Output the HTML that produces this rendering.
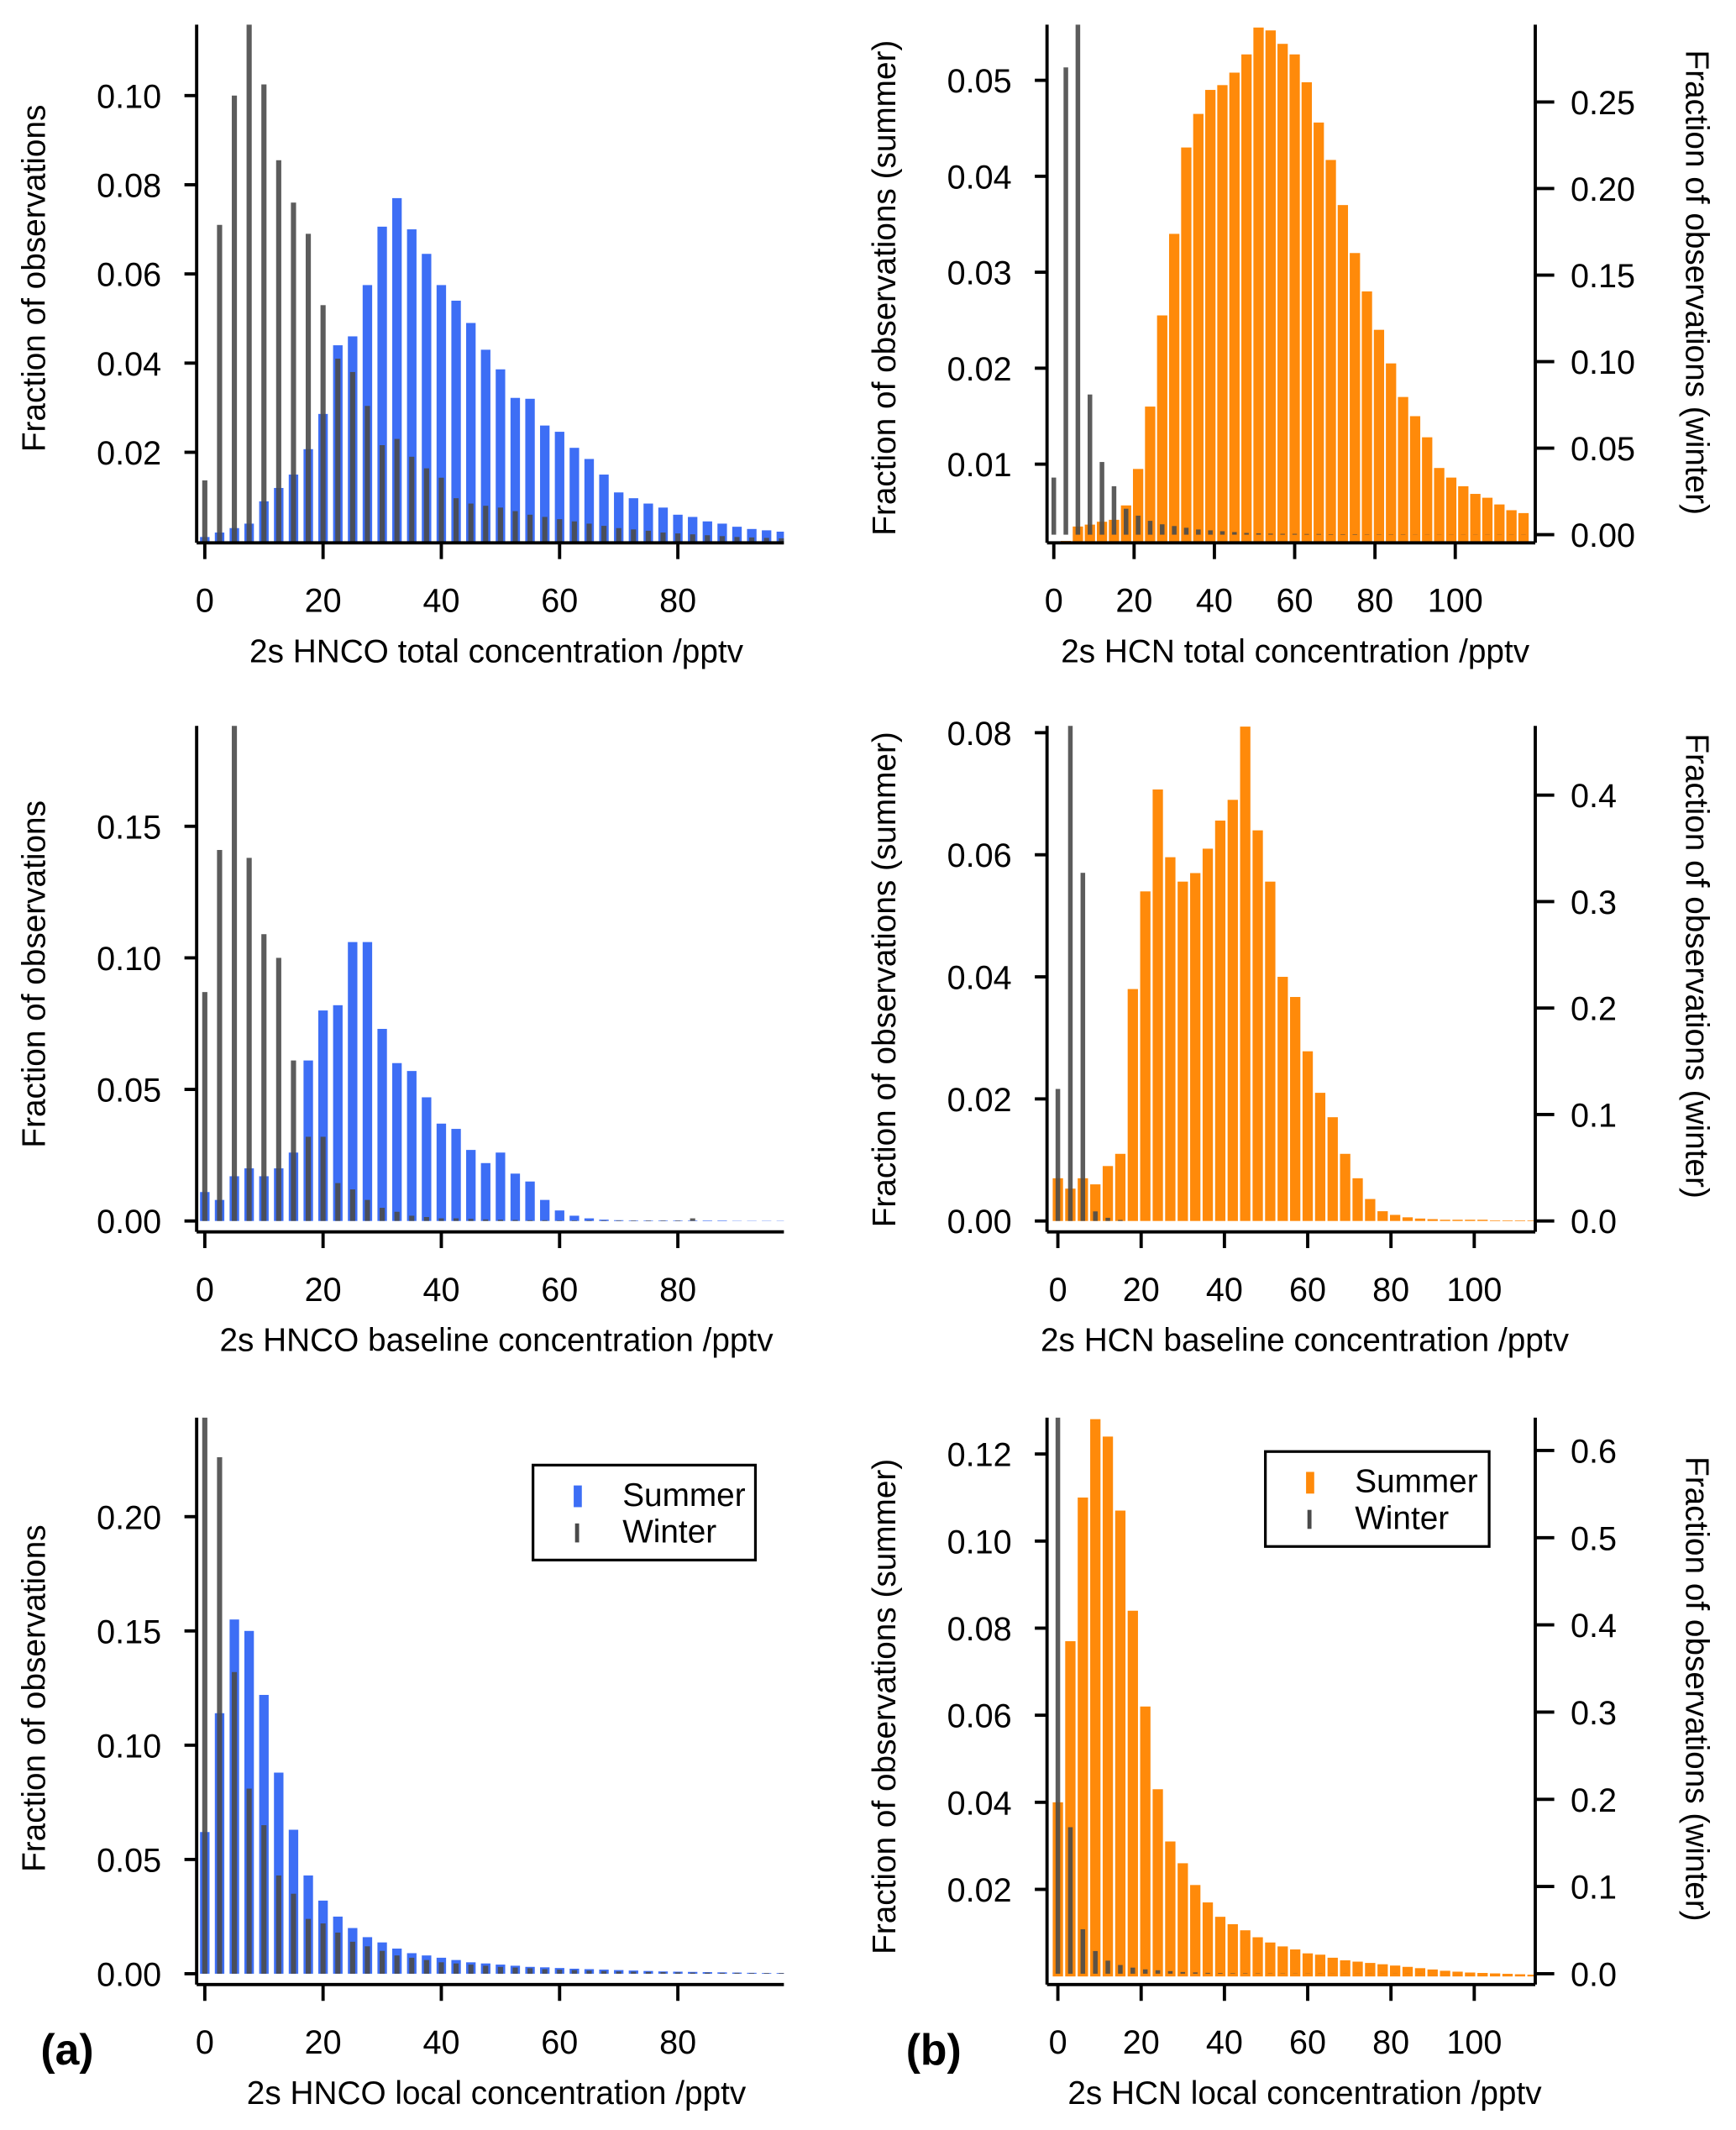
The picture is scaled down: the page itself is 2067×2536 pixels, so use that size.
<!DOCTYPE html>
<html><head><meta charset="utf-8"><style>
html,body{margin:0;padding:0;background:#fff;}
svg{display:block;font-family:"Liberation Sans",Arial,sans-serif;}
</style></head><body>
<svg id="fig" width="2067" height="2536" viewBox="0 0 1280 1570" xmlns="http://www.w3.org/2000/svg">
<text x="30" y="1522" font-size="32" font-weight="bold">(a)</text>
<text x="668" y="1522" font-size="32" font-weight="bold">(b)</text>
</svg>
<script>
// Left panels: bin centers every 2.5 pptv
const binsA = Array.from({length:40},(_,i)=>i*2.5);
const hncoTotalSummer=[0.001,0.002,0.003,0.004,0.009,0.012,0.015,0.0207,0.0286,0.044,0.046,0.0575,0.0706,0.077,0.070,0.0645,0.0575,0.054,0.049,0.043,0.0386,0.0322,0.032,0.026,0.0246,0.021,0.0185,0.015,0.011,0.0097,0.0085,0.0076,0.006,0.0055,0.0045,0.004,0.0033,0.0028,0.0025,0.0022];
const hncoTotalWinter=[0.0137,0.071,0.1,0.125,0.1025,0.0855,0.076,0.069,0.053,0.041,0.038,0.0304,0.0216,0.023,0.019,0.0164,0.0143,0.0097,0.0085,0.008,0.0076,0.0068,0.006,0.0055,0.005,0.0045,0.004,0.0035,0.003,0.0027,0.0024,0.002,0.0018,0.0016,0.0014,0.0012,0.001,0.0009,0.0008,0.0007];
const hncoBaseSummer=[0.011,0.008,0.017,0.020,0.017,0.020,0.026,0.061,0.080,0.082,0.106,0.106,0.073,0.060,0.057,0.047,0.037,0.035,0.027,0.022,0.026,0.018,0.015,0.008,0.004,0.002,0.001,0.0005,0.0003,0.0002,0.0002,0.0002,0.0002,0.0002,0.0002,0.0002,0.0001,0.0001,0.0001,0.0001];
const hncoBaseWinter=[0.087,0.141,0.19,0.138,0.109,0.10,0.061,0.032,0.032,0.0144,0.012,0.008,0.005,0.0035,0.002,0.0015,0.001,0.001,0.0008,0.0006,0.0005,0.0004,0.0003,0.0003,0.0002,0.0002,0.0002,0.0002,0.0002,0.0002,0.0002,0.0002,0.0002,0.001,0,0,0,0,0,0];
const hncoLocalSummer=[0.062,0.114,0.155,0.150,0.122,0.088,0.063,0.043,0.032,0.025,0.020,0.016,0.0137,0.011,0.009,0.008,0.007,0.006,0.005,0.0045,0.004,0.0035,0.003,0.0028,0.0025,0.0022,0.002,0.0018,0.0016,0.0014,0.0012,0.001,0.0009,0.0008,0.0007,0.0006,0.0005,0.0004,0.0003,0.0003];
const hncoLocalWinter=[0.26,0.226,0.132,0.081,0.065,0.043,0.035,0.024,0.022,0.018,0.014,0.012,0.010,0.008,0.007,0.006,0.005,0.0045,0.004,0.0035,0.003,0.0027,0.0024,0.002,0.0018,0.0016,0.0014,0.0012,0.001,0.0009,0.0008,0.0007,0.0006,0.0005,0.0005,0.0004,0.0004,0.0003,0.0003,0.0003];
// Right panels: bin centers every 3 pptv
const binsB = Array.from({length:40},(_,i)=>i*3);
const hcnTotalSummer=[0.001,0.002,0.0035,0.0037,0.004,0.0042,0.0057,0.0095,0.016,0.0255,0.034,0.043,0.0465,0.049,0.0495,0.0508,0.0527,0.0555,0.0552,0.0538,0.0527,0.0498,0.0456,0.0417,0.037,0.032,0.028,0.024,0.0205,0.017,0.015,0.0128,0.0096,0.0086,0.0077,0.0069,0.0065,0.0058,0.0052,0.0049];
const hcnTotalWinter=[0.033,0.27,0.30,0.081,0.042,0.028,0.015,0.011,0.008,0.006,0.005,0.004,0.003,0.0025,0.002,0.0015,0.001,0.0008,0.0006,0.0005,0.0005,0.0004,0.0004,0.0003,0.0003,0.0003,0.0002,0.0002,0.0002,0.0002,0.0001,0.0001,0.0001,0.0001,0.0001,0.0001,0.0001,0.0001,0.0001,0.0001];
const hcnBaseSummer=[0.007,0.0053,0.007,0.006,0.009,0.011,0.038,0.054,0.0707,0.0596,0.0556,0.057,0.061,0.0656,0.069,0.081,0.064,0.0556,0.040,0.0367,0.0278,0.021,0.017,0.011,0.007,0.0036,0.0016,0.001,0.0006,0.0004,0.0003,0.0002,0.0002,0.0002,0.0002,0.0001,0.0001,0.0001,0.0001,0.0001];
const hcnBaseWinter=[0.124,0.47,0.327,0.009,0.003,0.001,0,0,0,0,0,0,0,0,0,0,0,0,0,0,0,0,0,0,0,0,0,0,0,0,0,0,0,0,0,0,0,0,0,0];
const hcnLocalSummer=[0.040,0.077,0.110,0.128,0.124,0.107,0.084,0.062,0.043,0.031,0.026,0.021,0.017,0.0137,0.012,0.0106,0.009,0.0078,0.0069,0.0062,0.0053,0.005,0.0043,0.0037,0.0034,0.0031,0.0028,0.0025,0.0022,0.0019,0.0016,0.0013,0.0011,0.0009,0.0008,0.0007,0.0006,0.0005,0.0004,0.0003];
const hcnLocalWinter=[0.7,0.168,0.051,0.026,0.015,0.01,0.007,0.005,0.004,0.003,0.002,0.0015,0.001,0.0008,0.0006,0.0005,0.0004,0.0003,0.0003,0.0002,0.0002,0.0002,0.0001,0.0001,0.0001,0.0001,0.0001,0.0001,0.0001,0.0001,0,0,0,0,0,0,0,0,0,0];
const xTicksA=[0,20,40,60,80];
const xTicksB=[0,20,40,60,80,100];
const yTicksA1=[0.02,0.04,0.06,0.08,0.10];
const yTicksA2=[0.00,0.05,0.10,0.15];
const yTicksA3=[0.00,0.05,0.10,0.15,0.20];
const yTicksB1=[0.01,0.02,0.03,0.04,0.05];
const yTicksB2=[0.00,0.02,0.04,0.06,0.08];
const yTicksB3=[0.02,0.04,0.06,0.08,0.10,0.12];
const rTicksB1=[0.00,0.05,0.10,0.15,0.20,0.25];
const rTicksB2=[0.0,0.1,0.2,0.3,0.4];
const rTicksB3=[0.0,0.1,0.2,0.3,0.4,0.5,0.6];

const NS="http://www.w3.org/2000/svg";
const svg=document.getElementById('fig');
const FS=24.5, TFS=24;
let clipN=0;
function mk(tag,attrs,parent){const e=document.createElementNS(NS,tag);for(const k in attrs)e.setAttribute(k,attrs[k]);(parent||svg).appendChild(e);return e;}

function panel(c){
  const g=mk('g',{});
  
  
  const X=v=>c.x0+c.kx*v;
  const Y=v=>c.y0-c.ky*v;
  const YR=v=>c.ry0-c.rky*v;
  const id='clip'+(clipN++);
  const cp=mk('clipPath',{id:id},g);
  mk('rect',{x:c.axL,y:c.top,width:c.axR-c.axL,height:c.axY-c.top},cp);
  const bars=mk('g',{'clip-path':'url(#'+id+')'},g);
  c.bins.forEach((b,i)=>{
    const v=c.summer[i]; const y=Y(v);
    const r=mk('rect',{x:X(b)-c.sw/2,y:y,width:c.sw,height:Math.max(0,c.y0-y),fill:c.color},bars);
    
    
  });
  const Wy=c.right?YR:Y, W0=c.right?c.ry0:c.y0;
  c.bins.forEach((b,i)=>{
    const v=c.winter[i]; const y=Wy(v);
    const r=mk('rect',{x:X(b)-c.ww/2+c.woff,y:y,width:c.ww,height:Math.max(0,W0-y),fill:'#4a4a4a','fill-opacity':0.9},bars);
    
    
  });
  const ya=mk('line',{x1:c.axL,y1:c.top,x2:c.axL,y2:c.axY,stroke:'#000','stroke-width':2.4},g);
  
  
  const xa=mk('line',{x1:c.axL,y1:c.axY,x2:c.axR,y2:c.axY,stroke:'#000','stroke-width':2.4},g);
  
  
  c.yt.forEach(t=>{
    mk('line',{x1:c.axL-9,y1:Y(t),x2:c.axL,y2:Y(t),stroke:'#000','stroke-width':2.4},g);
    const tx=mk('text',{x:c.axL-26,y:Y(t)+9,'font-size':FS,'text-anchor':'end'},g);
    tx.textContent=t.toFixed(2);
    
    
  });
  c.xt.forEach(t=>{
    mk('line',{x1:X(t),y1:c.axY,x2:X(t),y2:c.axY+12,stroke:'#000','stroke-width':2.4},g);
    const tx=mk('text',{x:X(t),y:c.axY+51,'font-size':FS,'text-anchor':'middle'},g);
    tx.textContent=t;
    
    
  });
  if(c.right){
    const ra=mk('line',{x1:c.axR,y1:c.top,x2:c.axR,y2:c.axY,stroke:'#000','stroke-width':2.4},g);
    
    
    c.rt.forEach(t=>{
      mk('line',{x1:c.axR,y1:YR(t),x2:c.axR+14,y2:YR(t),stroke:'#000','stroke-width':2.4},g);
      const tx=mk('text',{x:c.axR+26,y:YR(t)+9,'font-size':FS},g);
      tx.textContent=t.toFixed(c.rdec);
      
      
    });
    const rt=mk('text',{x:0,y:0,'font-size':TFS,'text-anchor':'middle',transform:`translate(${c.rtx},${c.rty}) rotate(90)`},g);
    rt.textContent='Fraction of observations (winter)';
    
    
  }
  const xt=mk('text',{x:c.xtx,y:c.axY+88,'font-size':TFS,'text-anchor':'middle','xml:space':'preserve'},g);
  xt.textContent=c.xtitle;
  
  
  const yt=mk('text',{x:0,y:0,'font-size':TFS,'text-anchor':'middle','xml:space':'preserve',transform:`translate(${c.ytx},${c.yty}) rotate(-90)`},g);
  yt.textContent=c.ytitle;
  
  
  if(c.legend){
    const L=c.legend;
    const lg=mk('g',{},g);
    
    
    mk('rect',{x:L.x,y:L.y,width:L.w,height:70,fill:'#fff',stroke:'#000','stroke-width':2},lg);
    mk('rect',{x:L.x+30,y:L.y+15,width:6,height:16,fill:c.color},lg);
    mk('rect',{x:L.x+31,y:L.y+43,width:3,height:14,fill:'#4a4a4a'},lg);
    const t1=mk('text',{x:L.x+66,y:L.y+30,'font-size':TFS},lg);t1.textContent='Summer';
    
    
    const t2=mk('text',{x:L.x+66,y:L.y+57,'font-size':TFS},lg);t2.textContent='Winter';
    
    
  }
}
const blue='#3d6ef5', orange='#ff8a0a';
const A={bins:binsA,x0:151,kx:4.36,axL:145,axR:578,color:blue,sw:7,ww:3.8,woff:0,xt:xTicksA,xtx:366,ytx:33};
panel(Object.assign({},A,{name:'panel-hnco-total',summer:hncoTotalSummer,winter:hncoTotalWinter,y0:399,ky:3287.5,top:18,axY:400,yt:yTicksA1,xtitle:'2s HNCO  total concentration /pptv',ytitle:'Fraction of  observations',yty:205}));
panel(Object.assign({},A,{name:'panel-hnco-baseline',summer:hncoBaseSummer,winter:hncoBaseWinter,y0:900,ky:1940,top:535,axY:908,yt:yTicksA2,xtitle:'2s HNCO  baseline  concentration /pptv',ytitle:'Fraction of  observations',yty:718}));
panel(Object.assign({},A,{name:'panel-hnco-local',summer:hncoLocalSummer,winter:hncoLocalWinter,y0:1455,ky:1685,top:1045,axY:1463,yt:yTicksA3,xtitle:'2s HNCO  local concentration /pptv',ytitle:'Fraction of  observations',yty:1252,legend:{x:393,y:1080,w:164}}));
const B={bins:binsB,axL:772,axR:1132,color:orange,sw:7.6,ww:3.4,woff:0,right:true,ytx:660,rtx:1243};
panel(Object.assign({},B,{name:'panel-hcn-total',x0:777,kx:2.96,summer:hcnTotalSummer,winter:hcnTotalWinter,y0:412.75,ky:7075,ry0:394,rky:1276,top:18,axY:400,yt:yTicksB1,rt:rTicksB1,rdec:2,xt:xTicksB,xtx:955,xtitle:'2s HCN  total  concentration /pptv',ytitle:'Fraction of  observations   (summer)',yty:212,rty:208}));
panel(Object.assign({},B,{name:'panel-hcn-baseline',x0:780,kx:3.07,summer:hcnBaseSummer,winter:hcnBaseWinter,y0:900,ky:4500,ry0:900,rky:785,top:535,axY:908,yt:yTicksB2,rt:rTicksB2,rdec:1,xt:xTicksB,xtx:962,xtitle:'2s HCN baseline  concentration /pptv',ytitle:'Fraction of  observations   (summer)',yty:722,rty:712}));
panel(Object.assign({},B,{name:'panel-hcn-local',x0:780,kx:3.07,summer:hcnLocalSummer,winter:hcnLocalWinter,y0:1457,ky:3210,ry0:1455,rky:643,top:1045,axY:1463,yt:yTicksB3,rt:rTicksB3,rdec:1,xt:xTicksB,xtx:962,xtitle:'2s HCN  local  concentration /pptv',ytitle:'Fraction of  observations   (summer)',yty:1258,rty:1245,legend:{x:933,y:1070,w:165}}));
</script>
</body></html>
